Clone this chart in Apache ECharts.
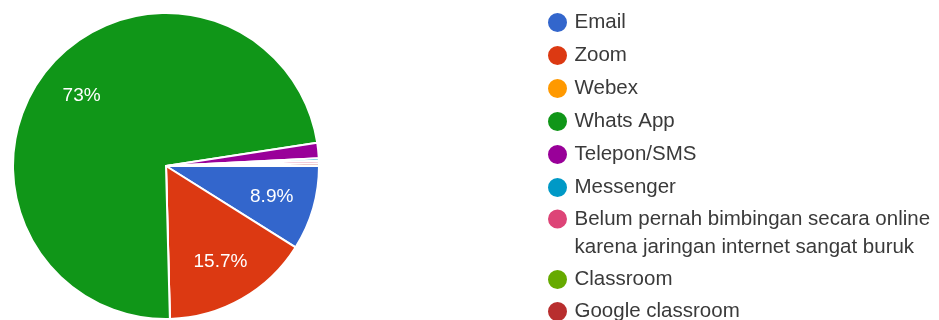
<!DOCTYPE html>
<html>
<head>
<meta charset="utf-8">
<script src="https://cdn.jsdelivr.net/npm/echarts@6/dist/echarts.min.js"></script>
<style>
html,body{margin:0;padding:0;background:#fff;}
#chart{width:939px;height:320px;}
</style>
</head>
<body>
<div id="chart"></div>
<script>
// Data
const categories = [
  'Email', 'Zoom', 'Webex', 'Whats App', 'Telepon/SMS', 'Messenger',
  'Belum pernah bimbingan secara online\nkarena jaringan internet sangat buruk',
  'Classroom', 'Google classroom'
];
const responses = [33, 58, 0, 270, 6, 1, 1, 0, 1];
const colors = ['#3366cc', '#dc3912', '#ff9900', '#109618', '#990099', '#0099c6', '#dd4477', '#66aa00', '#b82e2e'];

const total = responses.reduce((a, b) => a + b, 0);
const pieData = categories.map((c, i) => ({ name: c, value: responses[i] }));

function pctLabel(v) {
  const p = v / total * 100;
  if (p < 5) return '';
  let s = p.toFixed(1);
  if (s.endsWith('.0')) s = s.slice(0, -2);
  return s + '%';
}

// legend row centres (layout)
const rowCenters = [21, 54, 87, 120, 153, 186, 219, 278, 310];
const FONT = 'Liberation Sans, Arial, Helvetica, sans-serif';

const legends = categories.map((c, i) => {
  const multi = c.indexOf('\n') >= 0;
  return {
    orient: 'vertical', left: 546, padding: 0, icon: 'circle',
    itemWidth: 24, itemHeight: 21, selectedMode: false,
    top: multi ? rowCenters[i] - 42 : rowCenters[i] - 10,
    data: [c],
    textStyle: { fontFamily: FONT, fontSize: 20.5, color: '#3a3a3a', lineHeight: multi ? 28 : 21 },
    formatter: multi ? (n => '\n' + n) : (n => n)
  };
});

const chart = echarts.init(document.getElementById('chart'), null, { renderer: 'canvas' });
chart.setOption({
  animation: false,
  color: colors,
  legend: legends,
  series: [
    {
      type: 'pie',
      center: [166, 166],
      radius: 153,
      startAngle: 0,
      clockwise: true,
      silent: true,
      label: { show: false },
      labelLine: { show: false },
      itemStyle: { borderColor: '#ffffff', borderWidth: 2 },
      data: pieData
    },
    {
      type: 'pie',
      center: [166, 166],
      radius: [61, 153],
      startAngle: 0,
      clockwise: true,
      silent: true,
      itemStyle: { color: 'rgba(0,0,0,0)', borderWidth: 0 },
      label: {
        show: true, position: 'inside',
        formatter: p => pctLabel(p.value),
        color: '#ffffff', fontSize: 19,
        fontFamily: FONT
      },
      labelLine: { show: false },
      data: pieData
    }
  ]
});
</script>
</body>
</html>
